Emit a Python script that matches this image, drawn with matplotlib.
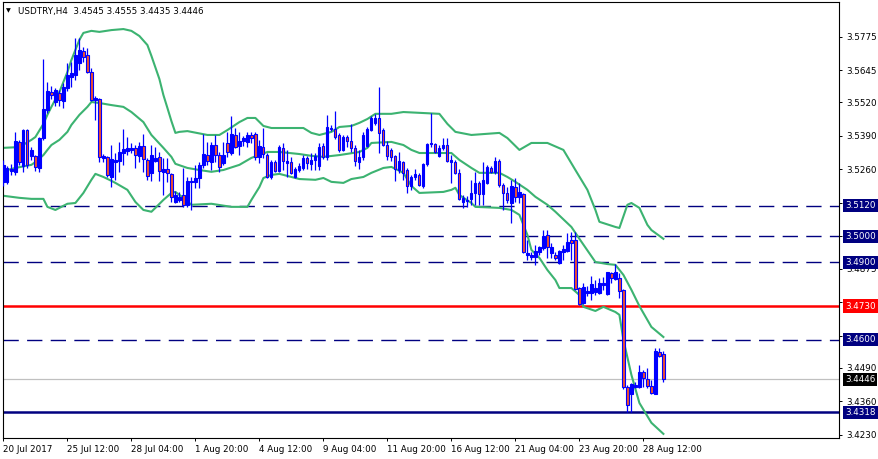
import matplotlib
matplotlib.use("Agg")
import matplotlib.pyplot as plt
import matplotlib.transforms as mtransforms

symbol = "USDTRY,H4"

opens = [3.5212, 3.5212, 3.5254, 3.5251, 3.5367, 3.5274, 3.5413, 3.5313, 3.5313, 3.5266,
         3.5382, 3.5491, 3.5561, 3.5522, 3.5557, 3.5526, 3.5576, 3.5619, 3.5627, 3.5673,
         3.5720, 3.5704, 3.5638, 3.5530, 3.5534, 3.5305, 3.5309, 3.5231, 3.5289, 3.5293,
         3.5324, 3.5332, 3.5336, 3.5344, 3.5313, 3.5351, 3.5297, 3.5247, 3.5293, 3.5309,
         3.5251, 3.5262, 3.5243, 3.5134, 3.5142, 3.5161, 3.5123, 3.5212, 3.5212, 3.5227,
         3.5278, 3.5316, 3.5289, 3.5355, 3.5316, 3.5285, 3.5363, 3.5324, 3.5394, 3.5351,
         3.5371, 3.5367, 3.5394, 3.5398, 3.5309, 3.5347, 3.5316, 3.5231, 3.5289, 3.5254,
         3.5344, 3.5285, 3.5289, 3.5231, 3.5258, 3.5266, 3.5305, 3.5282, 3.5297, 3.5274,
         3.5351, 3.5309, 3.5421, 3.5417, 3.5394, 3.5336, 3.5386, 3.5371, 3.5344, 3.5289,
         3.5309, 3.5351, 3.5413, 3.5441, 3.5460, 3.5413, 3.5355, 3.5336, 3.5313, 3.5258,
         3.5289, 3.5258, 3.5196, 3.5231, 3.5239, 3.5196, 3.5282, 3.5359, 3.5359, 3.5313,
         3.5344, 3.5355, 3.5289, 3.5289, 3.5247, 3.5134, 3.5138, 3.5146, 3.5169, 3.5208,
         3.5165, 3.5208, 3.5266, 3.5251, 3.5293, 3.5200, 3.5169, 3.5130, 3.5192, 3.5154,
         3.5165, 3.4929, 3.4921, 3.4921, 3.4940, 3.4956, 3.5006, 3.4936, 3.4929, 3.4897,
         3.4940, 3.4944, 3.4987, 3.4987, 3.4800, 3.4742, 3.4781, 3.4781, 3.4785, 3.4781,
         3.4812, 3.4777, 3.4859, 3.4835, 3.4839, 3.4793, 3.4416, 3.4389, 3.4416, 3.4416,
         3.4475, 3.4447, 3.4420, 3.4389, 3.4552, 3.4545]
highs = [3.5297, 3.5274, 3.5282, 3.5406, 3.5375, 3.5417, 3.5417, 3.5347, 3.5316, 3.5386,
         3.5689, 3.5600, 3.5584, 3.5576, 3.5569, 3.5596, 3.5673, 3.5677, 3.5770, 3.5770,
         3.5735, 3.5731, 3.5654, 3.5545, 3.5538, 3.5320, 3.5313, 3.5355, 3.5324, 3.5367,
         3.5417, 3.5386, 3.5363, 3.5355, 3.5367, 3.5398, 3.5305, 3.5355, 3.5347, 3.5328,
         3.5305, 3.5305, 3.5247, 3.5177, 3.5173, 3.5266, 3.5231, 3.5231, 3.5278, 3.5289,
         3.5398, 3.5367, 3.5367, 3.5394, 3.5328, 3.5367, 3.5406, 3.5468, 3.5421, 3.5406,
         3.5390, 3.5406, 3.5406, 3.5406, 3.5375, 3.5421, 3.5324, 3.5297, 3.5297, 3.5355,
         3.5363, 3.5336, 3.5309, 3.5270, 3.5285, 3.5316, 3.5313, 3.5324, 3.5324, 3.5363,
         3.5363, 3.5472, 3.5433, 3.5487, 3.5402, 3.5394, 3.5394, 3.5437, 3.5355, 3.5336,
         3.5406, 3.5425, 3.5468, 3.5476, 3.5580, 3.5421, 3.5371, 3.5344, 3.5316, 3.5328,
         3.5293, 3.5266, 3.5239, 3.5262, 3.5247, 3.5285, 3.5363, 3.5479, 3.5363, 3.5355,
         3.5382, 3.5382, 3.5316, 3.5297, 3.5262, 3.5161, 3.5158, 3.5220, 3.5251, 3.5216,
         3.5289, 3.5278, 3.5274, 3.5309, 3.5301, 3.5208, 3.5192, 3.5220, 3.5227, 3.5208,
         3.5169, 3.4987, 3.4940, 3.4967, 3.4963, 3.5025, 3.5025, 3.4975, 3.4940, 3.4948,
         3.4967, 3.5014, 3.5018, 3.5018, 3.4804, 3.4820, 3.4808, 3.4847, 3.4831, 3.4839,
         3.4843, 3.4862, 3.4862, 3.4893, 3.4859, 3.4796, 3.4424, 3.4432, 3.4436, 3.4502,
         3.4482, 3.4490, 3.4443, 3.4567, 3.4567, 3.4555]
lows = [3.5196, 3.5204, 3.5239, 3.5239, 3.5278, 3.5251, 3.5266, 3.5297, 3.5254, 3.5251,
        3.5375, 3.5479, 3.5534, 3.5507, 3.5507, 3.5499, 3.5565, 3.5580, 3.5607, 3.5646,
        3.5677, 3.5635, 3.5526, 3.5452, 3.5289, 3.5289, 3.5231, 3.5192, 3.5220, 3.5251,
        3.5278, 3.5316, 3.5324, 3.5266, 3.5289, 3.5251, 3.5220, 3.5216, 3.5289, 3.5216,
        3.5161, 3.5212, 3.5134, 3.5130, 3.5134, 3.5115, 3.5115, 3.5103, 3.5189, 3.5189,
        3.5266, 3.5278, 3.5258, 3.5289, 3.5251, 3.5278, 3.5309, 3.5316, 3.5344, 3.5316,
        3.5351, 3.5347, 3.5363, 3.5297, 3.5285, 3.5305, 3.5227, 3.5223, 3.5251, 3.5251,
        3.5258, 3.5231, 3.5243, 3.5227, 3.5251, 3.5258, 3.5262, 3.5258, 3.5258, 3.5258,
        3.5301, 3.5297, 3.5409, 3.5378, 3.5328, 3.5332, 3.5347, 3.5328, 3.5274, 3.5262,
        3.5297, 3.5347, 3.5409, 3.5433, 3.5324, 3.5351, 3.5297, 3.5293, 3.5216, 3.5247,
        3.5220, 3.5169, 3.5181, 3.5220, 3.5196, 3.5189, 3.5274, 3.5347, 3.5324, 3.5309,
        3.5336, 3.5289, 3.5208, 3.5243, 3.5142, 3.5111, 3.5115, 3.5123, 3.5123, 3.5123,
        3.5123, 3.5204, 3.5247, 3.5243, 3.5192, 3.5103, 3.5130, 3.5053, 3.5134, 3.5130,
        3.4936, 3.4909, 3.4909, 3.4890, 3.4929, 3.4948, 3.4917, 3.4917, 3.4909, 3.4893,
        3.4909, 3.4940, 3.4909, 3.4793, 3.4734, 3.4738, 3.4769, 3.4754, 3.4773, 3.4777,
        3.4793, 3.4773, 3.4820, 3.4831, 3.4762, 3.4408, 3.4318, 3.4318, 3.4412, 3.4412,
        3.4416, 3.4412, 3.4389, 3.4389, 3.4533, 3.4435]
closes = [3.5278, 3.5266, 3.5262, 3.5371, 3.5289, 3.5413, 3.5278, 3.5336, 3.5270, 3.5382,
          3.5495, 3.5565, 3.5549, 3.5569, 3.5530, 3.5580, 3.5627, 3.5635, 3.5704, 3.5724,
          3.5697, 3.5638, 3.5530, 3.5538, 3.5309, 3.5313, 3.5239, 3.5301, 3.5297, 3.5328,
          3.5340, 3.5344, 3.5344, 3.5316, 3.5351, 3.5301, 3.5235, 3.5316, 3.5305, 3.5254,
          3.5262, 3.5247, 3.5154, 3.5161, 3.5154, 3.5123, 3.5216, 3.5216, 3.5227, 3.5278,
          3.5320, 3.5293, 3.5355, 3.5316, 3.5270, 3.5316, 3.5328, 3.5398, 3.5347, 3.5371,
          3.5382, 3.5394, 3.5382, 3.5309, 3.5351, 3.5320, 3.5231, 3.5289, 3.5254, 3.5347,
          3.5293, 3.5293, 3.5247, 3.5262, 3.5274, 3.5305, 3.5285, 3.5297, 3.5313, 3.5347,
          3.5309, 3.5425, 3.5417, 3.5386, 3.5336, 3.5386, 3.5371, 3.5344, 3.5293, 3.5309,
          3.5394, 3.5417, 3.5460, 3.5460, 3.5402, 3.5355, 3.5313, 3.5309, 3.5262, 3.5293,
          3.5247, 3.5196, 3.5231, 3.5243, 3.5200, 3.5282, 3.5359, 3.5363, 3.5328, 3.5344,
          3.5355, 3.5293, 3.5297, 3.5247, 3.5146, 3.5150, 3.5142, 3.5169, 3.5208, 3.5165,
          3.5220, 3.5270, 3.5251, 3.5293, 3.5200, 3.5169, 3.5142, 3.5196, 3.5154, 3.5173,
          3.4940, 3.4936, 3.4929, 3.4944, 3.4960, 3.5002, 3.4960, 3.4960, 3.4917, 3.4944,
          3.4952, 3.4979, 3.4975, 3.4796, 3.4738, 3.4804, 3.4789, 3.4816, 3.4800, 3.4820,
          3.4820, 3.4862, 3.4839, 3.4862, 3.4789, 3.4416, 3.4346, 3.4428, 3.4424, 3.4475,
          3.4452, 3.4420, 3.4393, 3.4556, 3.4537, 3.4446]

# Bollinger bands, read at bar indices
upper_idx = [0, 4, 7, 8, 10, 11, 12, 14, 16, 17, 18, 19, 20, 22, 24, 27, 30, 32, 34, 36,
             37, 39, 40, 41, 42, 43, 44, 46, 51, 54, 56, 59, 61, 63, 65, 67, 75, 77, 79, 82,
             84, 87, 89, 91, 93, 97, 100, 109, 111, 113, 117, 124, 126, 129, 132, 136, 140, 143, 146, 148,
             149, 153, 154, 156, 157, 159, 161, 162, 165]
upper_val = [3.5344, 3.5347, 3.5375, 3.5386, 3.5437, 3.5472, 3.5503, 3.5561, 3.5638, 3.5685,
             3.5724, 3.5763, 3.5790, 3.5798, 3.5794, 3.5801, 3.5805, 3.5798, 3.5778, 3.5743,
             3.5701, 3.5611, 3.5549, 3.5499, 3.5448, 3.5402, 3.5406, 3.5409, 3.5394, 3.5394,
             3.5413, 3.5444, 3.5460, 3.5460, 3.5429, 3.5421, 3.5421, 3.5402, 3.5394, 3.5406,
             3.5425, 3.5429, 3.5441, 3.5456, 3.5476, 3.5476, 3.5483, 3.5476, 3.5437, 3.5406,
             3.5394, 3.5402, 3.5382, 3.5336, 3.5363, 3.5363, 3.5336, 3.5258, 3.5181, 3.5103,
             3.5057, 3.5037, 3.5033, 3.5123, 3.5130, 3.5111, 3.5045, 3.5025, 3.4991]
middle_idx = [0, 3, 7, 8, 10, 11, 12, 14, 16, 17, 19, 21, 22, 24, 27, 30, 32, 35, 37, 40,
              42, 43, 46, 49, 52, 55, 59, 62, 66, 69, 74, 77, 80, 84, 89, 91, 92, 97, 100, 102,
              104, 112, 114, 117, 119, 124, 126, 128, 131, 133, 136, 138, 142, 144, 148, 151, 153, 155, 157, 159,
              162, 165]
middle_val = [3.5254, 3.5266, 3.5278, 3.5289, 3.5316, 3.5336, 3.5355, 3.5375, 3.5406, 3.5433,
              3.5472, 3.5503, 3.5522, 3.5518, 3.5510, 3.5503, 3.5483, 3.5444, 3.5394, 3.5344,
              3.5309, 3.5282, 3.5266, 3.5258, 3.5251, 3.5258, 3.5278, 3.5305, 3.5328, 3.5328,
              3.5320, 3.5313, 3.5309, 3.5316, 3.5328, 3.5344, 3.5363, 3.5367, 3.5355, 3.5336,
              3.5324, 3.5324, 3.5297, 3.5266, 3.5247, 3.5247, 3.5231, 3.5212, 3.5181, 3.5154,
              3.5123, 3.5096, 3.5037, 3.4991, 3.4901, 3.4893, 3.4890, 3.4851, 3.4793, 3.4730,
              3.4649, 3.4610]
lower_idx = [0, 4, 7, 10, 11, 13, 16, 18, 20, 22, 23, 25, 27, 28, 31, 33, 35, 37, 38, 40,
             42, 43, 45, 47, 52, 57, 61, 62, 64, 65, 67, 69, 74, 78, 80, 82, 85, 87, 90, 92,
             95, 97, 100, 102, 104, 110, 112, 113, 114, 117, 118, 124, 127, 129, 131, 132, 134, 136, 138, 139,
             142, 144, 145, 148, 150, 153, 154, 155, 157, 159, 162, 165]
lower_val = [3.5158, 3.5150, 3.5146, 3.5146, 3.5115, 3.5103, 3.5127, 3.5130, 3.5169, 3.5220,
             3.5243, 3.5231, 3.5216, 3.5208, 3.5181, 3.5134, 3.5103, 3.5096, 3.5111, 3.5142,
             3.5169, 3.5173, 3.5150, 3.5123, 3.5127, 3.5115, 3.5115, 3.5142, 3.5192, 3.5227,
             3.5239, 3.5243, 3.5223, 3.5220, 3.5227, 3.5212, 3.5208, 3.5223, 3.5231, 3.5247,
             3.5266, 3.5270, 3.5247, 3.5196, 3.5169, 3.5173, 3.5181, 3.5189, 3.5161, 3.5130,
             3.5115, 3.5111, 3.5103, 3.5084, 3.5006, 3.4948, 3.4917, 3.4870, 3.4831, 3.4800,
             3.4800, 3.4773, 3.4727, 3.4711, 3.4727, 3.4707, 3.4696, 3.4599, 3.4463, 3.4354,
             3.4277, 3.4234]

dashed_levels = [3.5120, 3.5000, 3.4900, 3.4600]
red_level = 3.4730
support_level = 3.4318
bid = closes[-1]

price_ticks = [3.5775, 3.5645, 3.5520, 3.5390, 3.5260, 3.5130, 3.5000,
               3.4875, 3.4745, 3.4615, 3.4490, 3.4360, 3.4230]
hidden_ticks = [3.5130, 3.5000, 3.4745, 3.4615]   # covered by the level boxes
date_ticks = [0, 16, 32, 48, 64, 80, 96, 112, 128, 144, 160]
date_labels = ["20 Jul 2017", "25 Jul 12:00", "28 Jul 04:00", "1 Aug 20:00", "4 Aug 12:00",
               "9 Aug 04:00", "11 Aug 20:00", "16 Aug 12:00", "21 Aug 04:00", "23 Aug 20:00",
               "28 Aug 12:00"]

BLUE = "#0000FF"
BEAR = "#F0502F"
NAVY = "#000080"
GREEN = "#3CB371"
FS = 6.3

fig = plt.figure(figsize=(8.79, 4.59), dpi=100)
ax = fig.add_axes([3 / 879, 1 - 438 / 459, 836 / 879, 436 / 459])
ax.set_xlim(-0.1, 208.9)
ax.set_ylim(3.4218, 3.5910)

# levels
for lv in dashed_levels:
    ax.axhline(lv, color=NAVY, lw=1.0, dashes=(11, 6), zorder=1)
ax.axhline(red_level, color="#FF0000", lw=1.8, zorder=1)
ax.axhline(support_level, color=NAVY, lw=1.8, zorder=1)
ax.axhline(bid, color="#C0C0C0", lw=0.9, zorder=1)

# bands
ax.plot(upper_idx, upper_val, color=GREEN, lw=1.5, zorder=2)
ax.plot(middle_idx, middle_val, color=GREEN, lw=1.5, zorder=2)
ax.plot(lower_idx, lower_val, color=GREEN, lw=1.5, zorder=2)

# candles
x = list(range(len(opens)))
ax.vlines(x, lows, highs, color=BLUE, lw=0.9, zorder=3)
fills = [BLUE if c >= o else BEAR for o, c in zip(opens, closes)]
heights = [c - o for o, c in zip(opens, closes)]
ax.bar(x, heights, bottom=opens, width=0.55, color=fills, edgecolor=BLUE,
       linewidth=0.8, zorder=4)

# axes styling
for sp in ax.spines.values():
    sp.set_color("black")
    sp.set_linewidth(0.8)
ax.yaxis.tick_right()
ax.set_yticks(price_ticks)
ax.set_yticklabels(["" if t in hidden_ticks else f"{t:.4f}" for t in price_ticks])
ax.tick_params(axis="y", direction="out", length=2.5, width=0.7, pad=2.5, labelsize=FS)
ax.set_xticks(date_ticks)
ax.set_xticklabels(date_labels)
ax.tick_params(axis="x", direction="out", length=2.5, width=0.7, pad=2.5, labelsize=FS)
for lab in ax.get_xticklabels():
    lab.set_ha("left")

# price boxes on the right scale
trans = mtransforms.blended_transform_factory(ax.transAxes, ax.transData)
boxes = [(lv, NAVY) for lv in dashed_levels] + [(red_level, "#FF0000"),
                                                 (support_level, NAVY), (bid, "black")]
for lv, col in boxes:
    ax.text(1.0072, lv, f"{lv:.4f}", transform=trans, color="white", fontsize=FS,
            va="center", ha="left", zorder=10, clip_on=False,
            bbox=dict(boxstyle="square,pad=0.25", facecolor=col, edgecolor="none"))

# header
ax.text(0.004, 0.979, "\u25BC", transform=ax.transAxes, fontsize=4.5, va="center", ha="left")
ax.text(0.018, 0.979,
        f"{symbol}  {opens[-1]:.4f} {highs[-1]:.4f} {lows[-1]:.4f} {closes[-1]:.4f}",
        transform=ax.transAxes, fontsize=FS, va="center", ha="left")

fig.savefig("out.png", dpi=100)
